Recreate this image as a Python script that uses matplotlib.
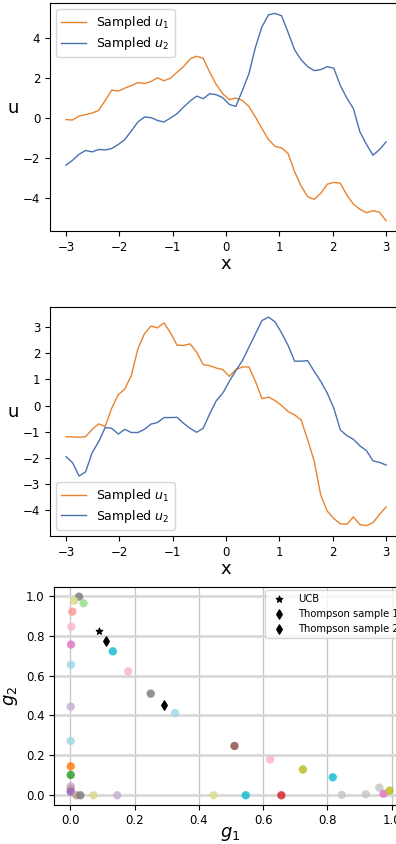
import matplotlib

matplotlib.use("Agg")
import matplotlib.pyplot as plt
import numpy as np


ORANGE = "#e8832f"
BLUE = "#4a72b0"

# x grid of the sampled functions
X_GRID = np.linspace(-3, 3, 50)

# panel 1 samples
U1_TOP = [
    -0.08, -0.10, 0.10, 0.17, 0.25, 0.38, 0.88, 1.40, 1.35, 1.50,
    1.63, 1.78, 1.73, 1.83, 2.02, 1.87, 2.00, 2.30, 2.58, 2.97,
    3.10, 3.00, 2.30, 1.68, 1.22, 0.92, 1.00, 0.88, 0.58, 0.05,
    -0.53, -1.08, -1.42, -1.50, -1.78, -2.70, -3.42, -3.95, -4.08, -3.78,
    -3.32, -3.23, -3.27, -3.87, -4.32, -4.58, -4.75, -4.65, -4.73, -5.15,
]
U2_TOP = [
    -2.37, -2.12, -1.82, -1.63, -1.70, -1.58, -1.60, -1.53, -1.33, -1.08,
    -0.65, -0.20, 0.05, 0.02, -0.12, -0.20, 0.00, 0.22, 0.55, 0.85,
    1.10, 0.97, 1.22, 1.17, 1.02, 0.68, 0.58, 1.38, 2.22, 3.55,
    4.58, 5.18, 5.25, 5.13, 4.30, 3.42, 2.92, 2.58, 2.38, 2.43,
    2.58, 2.50, 1.63, 1.00, 0.47, -0.70, -1.32, -1.87, -1.58, -1.20,
]

# panel 2 samples
U1_MID = [
    -1.19, -1.20, -1.21, -1.19, -0.91, -0.70, -0.80, -0.10, 0.41, 0.63,
    1.14, 2.16, 2.73, 3.03, 2.96, 3.15, 2.77, 2.30, 2.29, 2.35,
    2.03, 1.56, 1.52, 1.43, 1.37, 1.11, 1.37, 1.47, 1.47, 0.92,
    0.26, 0.32, 0.19, 0.00, -0.23, -0.36, -0.55, -1.31, -2.12, -3.42,
    -4.03, -4.31, -4.51, -4.53, -4.25, -4.54, -4.58, -4.47, -4.15, -3.87,
]
U2_MID = [
    -1.95, -2.18, -2.69, -2.53, -1.80, -1.38, -0.84, -0.87, -1.09, -0.91,
    -1.03, -1.03, -0.91, -0.71, -0.65, -0.46, -0.46, -0.45, -0.68, -0.87,
    -1.02, -0.87, -0.32, 0.18, 0.47, 0.92, 1.33, 1.71, 2.22, 2.73,
    3.24, 3.37, 3.19, 2.77, 2.29, 1.69, 1.69, 1.71, 1.30, 0.92,
    0.47, -0.10, -0.93, -1.15, -1.29, -1.54, -1.72, -2.11, -2.17, -2.27,
]

# panel 3: objective values of candidate points
G1 = [
    0.027, 0.012, 0.041, 0.006, 0.003, 0.002, 0.002, 0.001, 0.001, 0.001,
    0.001, 0.001, 0.001, 0.001, 0.019, 0.031, 0.072, 0.146, 0.132, 0.180,
    0.250, 0.326, 0.511, 0.446, 0.546, 0.657, 0.622, 0.724, 0.817, 0.845,
    0.920, 0.962, 0.975, 0.994,
]
G2 = [
    0.995, 0.975, 0.962, 0.920, 0.845, 0.755, 0.654, 0.444, 0.272, 0.145,
    0.102, 0.045, 0.032, 0.018, 0.000, 0.000, 0.000, 0.000, 0.721, 0.621,
    0.509, 0.412, 0.247, 0.000, 0.000, 0.000, 0.179, 0.129, 0.090, 0.002,
    0.005, 0.038, 0.008, 0.023,
]
POINT_COLORS = [
    "#7f7f7f", "#dbdb8d", "#98df8a", "#ff9896", "#f7b6d2", "#e377c2", "#9edae5", "#c5b0d5", "#9edae5", "#ff7f0e",
    "#2ca02c", "#c5b0d5", "#c49c94", "#9467bd", "#c49c94", "#7f7f7f", "#dbdb8d", "#c5b0d5", "#17becf", "#f7b6d2",
    "#7f7f7f", "#9edae5", "#8c564b", "#dbdb8d", "#17becf", "#d62728", "#f7b6d2", "#bcbd22", "#17becf", "#c7c7c7",
    "#c7c7c7", "#c7c7c7", "#e377c2", "#bcbd22",
]
UCB = (0.090, 0.821)
THOMPSON_1 = (0.110, 0.771)
THOMPSON_2 = (0.293, 0.452)


def setup_style():
    plt.rcParams.update(
        {
            "font.family": "DejaVu Sans",
            "xtick.labelsize": 8.5,
            "ytick.labelsize": 8.5,
            "axes.labelsize": 13,
            "legend.fontsize": 9,
            "mathtext.fontset": "dejavusans",
        }
    )


def plot_samples(ax, u1, u2, legend_loc):
    ax.plot(X_GRID, u1, color=ORANGE, linewidth=1.0, label="Sampled $u_1$")
    ax.plot(X_GRID, u2, color=BLUE, linewidth=1.0, label="Sampled $u_2$")
    ax.set_xlim(-3.3, 3.3)
    ax.set_xticks([-3, -2, -1, 0, 1, 2, 3])
    ax.set_xlabel("x", labelpad=1)
    ax.set_ylabel("u", rotation=0, labelpad=7)
    ax.legend(loc=legend_loc, labelspacing=0.3)


def plot_objectives(ax):
    ax.grid(True, axis="y", color="#d9d9d9", linewidth=2.0, zorder=0)
    ax.grid(True, axis="x", color="#c4c4c4", linewidth=0.9, zorder=0)
    ax.set_axisbelow(True)
    ax.scatter(G1, G2, c=POINT_COLORS, s=36, alpha=0.85, edgecolors="none", zorder=2)
    ax.scatter(*UCB, marker="*", color="black", s=22, label="UCB", zorder=3)
    ax.scatter(*THOMPSON_1, marker="d", color="black", s=22, label="Thompson sample 1", zorder=3)
    ax.scatter(*THOMPSON_2, marker="d", color="black", s=22, label="Thompson sample 2", zorder=3)
    ax.set_xlim(-0.05, 1.045)
    ax.set_ylim(-0.05, 1.045)
    ax.set_xticks([0.0, 0.2, 0.4, 0.6, 0.8, 1.0])
    ax.set_yticks([0.0, 0.2, 0.4, 0.6, 0.8, 1.0])
    ax.tick_params(axis="x", pad=2.5)
    ax.set_xlabel("$g_1$", labelpad=-1)
    ax.set_ylabel("$g_2$", labelpad=4)
    ax.legend(loc="upper right", fontsize=7.2, borderaxespad=0.3, handletextpad=0.9)


def main():
    setup_style()
    fig = plt.figure(figsize=(3.96, 8.44), dpi=100)
    ax1 = fig.add_axes([0.1263, 0.7263, 0.889, 0.2701])
    ax2 = fig.add_axes([0.1263, 0.3649, 0.889, 0.2717])
    ax3 = fig.add_axes([0.1372, 0.0459, 0.888, 0.2590])
    plot_samples(ax1, U1_TOP, U2_TOP, "upper left")
    plot_samples(ax2, U1_MID, U2_MID, "lower left")
    plot_objectives(ax3)
    fig.savefig("out.png", dpi=100)
    plt.close(fig)


if __name__ == "__main__":
    main()
